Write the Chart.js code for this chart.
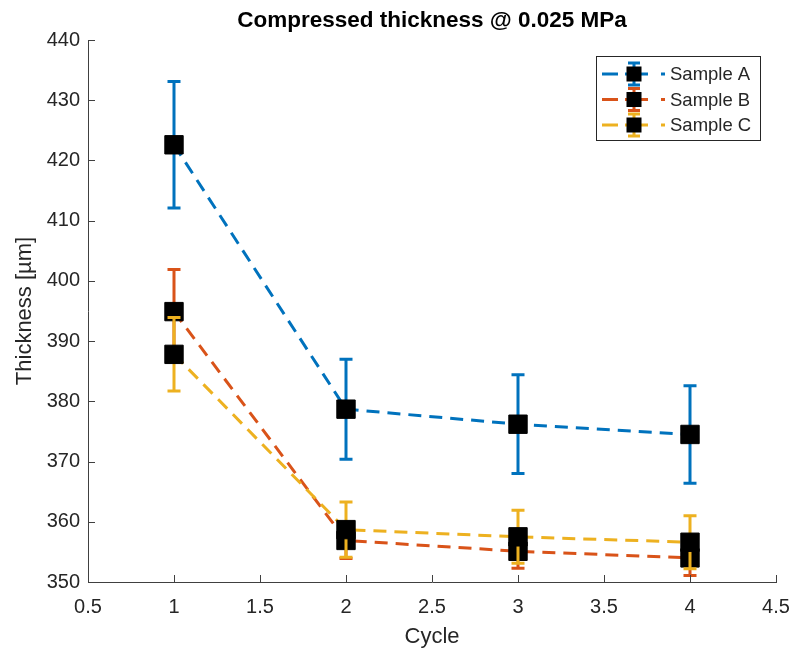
<!DOCTYPE html>
<html>
<head>
<meta charset="utf-8">
<title>Compressed thickness @ 0.025 MPa</title>
<script src="https://cdn.jsdelivr.net/npm/chart.js@4.4.1/dist/chart.umd.min.js"></script>
<style>
  html, body { margin: 0; padding: 0; background: #fff; }
</style>
</head>
<body>
<canvas id="thicknessChart" width="793" height="651"></canvas>
<script>
// Values
const cycles = [1, 2, 3, 4];
const sampleA = [422.6, 378.7, 376.2, 374.5];
const errA = [10.5, 8.3, 8.2, 8.1];
const sampleB = [394.9, 356.9, 355.1, 354.0];
const errB = [7.0, 3.0, 2.8, 2.9];
const sampleC = [387.8, 358.7, 357.5, 356.6];
const errC = [6.1, 4.6, 4.4, 4.4];
const seriesNames = ['Sample A', 'Sample B', 'Sample C'];
const xTicks = [0.5, 1, 1.5, 2, 2.5, 3, 3.5, 4, 4.5];

const FONT = '"Liberation Sans", Arial, Helvetica, sans-serif';
const TEXT = '#262626';
const AXIS = '#404040';
const colors = ['#0072BD', '#D95319', '#EDB120'];

function points(values) {
    return cycles.map((c, i) => ({ x: c, y: values[i] }));
}

function series(label, values, errors, color, order) {
    return {
        label: label,
        data: points(values),
        errors: errors,
        order: order,
        borderColor: color,
        borderWidth: 3,
        borderDash: [13, 8],
        pointStyle: 'rect',
        pointRadius: 13,
        pointBackgroundColor: '#000',
        pointBorderColor: '#000',
        pointBorderWidth: 1,
        tension: 0
    };
}

// Vertical error bars, drawn just before each dataset so layering follows the series order
const errorBarPlugin = {
    id: 'errorBars',
    beforeDatasetDraw(chart, args) {
        const ds = chart.data.datasets[args.index];
        if (!ds.errors) return;
        const ctx = chart.ctx;
        const yScale = chart.scales.y;
        ctx.save();
        ctx.strokeStyle = ds.borderColor;
        ctx.lineWidth = 3;
        ctx.setLineDash([]);
        args.meta.data.forEach((pt, i) => {
            const v = ds.data[i].y;
            const top = yScale.getPixelForValue(v + ds.errors[i]);
            const bot = yScale.getPixelForValue(v - ds.errors[i]);
            ctx.beginPath();
            ctx.moveTo(pt.x, top);
            ctx.lineTo(pt.x, bot);
            ctx.moveTo(pt.x - 6.5, top);
            ctx.lineTo(pt.x + 6.5, top);
            ctx.moveTo(pt.x - 6.5, bot);
            ctx.lineTo(pt.x + 6.5, bot);
            ctx.stroke();
        });
        ctx.restore();
    }
};

// MATLAB style inward tick marks
const innerTicksPlugin = {
    id: 'innerTicks',
    afterDraw(chart) {
        const { ctx, chartArea, scales } = chart;
        ctx.save();
        ctx.strokeStyle = AXIS;
        ctx.lineWidth = 1;
        ctx.beginPath();
        scales.x.ticks.forEach(t => {
            const px = Math.round(scales.x.getPixelForValue(t.value)) + 0.5;
            ctx.moveTo(px, chartArea.bottom);
            ctx.lineTo(px, chartArea.bottom - 7);
        });
        scales.y.ticks.forEach(t => {
            const py = Math.round(scales.y.getPixelForValue(t.value)) + 0.5;
            ctx.moveTo(chartArea.left, py);
            ctx.lineTo(chartArea.left + 7, py);
        });
        ctx.stroke();
        ctx.restore();
    }
};

// Legend box in the top right corner, like MATLAB's 'northeast'
const boxLegendPlugin = {
    id: 'boxLegend',
    afterDraw(chart) {
        const ctx = chart.ctx;
        const area = chart.chartArea;
        const w = 164, h = 84;
        const x0 = area.right - 180, y0 = area.top + 16;
        ctx.save();
        ctx.fillStyle = '#fff';
        ctx.fillRect(x0, y0, w, h);
        ctx.strokeStyle = TEXT;
        ctx.lineWidth = 1;
        ctx.strokeRect(x0 + 0.5, y0 + 0.5, w, h);

        chart.data.datasets.forEach((ds, i) => {
            const cy = y0 + 18 + i * 25.5;
            const cx = x0 + 38;
            ctx.strokeStyle = ds.borderColor;
            ctx.lineWidth = 3;
            ctx.beginPath();
            [[6, 22], [29, 52], [65, 69]].forEach(seg => {
                ctx.moveTo(x0 + seg[0], cy);
                ctx.lineTo(x0 + seg[1], cy);
            });
            ctx.moveTo(cx, cy - 11);
            ctx.lineTo(cx, cy + 11);
            ctx.moveTo(cx - 6, cy - 11);
            ctx.lineTo(cx + 6, cy - 11);
            ctx.moveTo(cx - 6, cy + 11);
            ctx.lineTo(cx + 6, cy + 11);
            ctx.stroke();
            ctx.fillStyle = '#000';
            ctx.fillRect(cx - 7.5, cy - 7.5, 15, 15);
            ctx.fillStyle = TEXT;
            ctx.font = '18.5px ' + FONT;
            ctx.textBaseline = 'middle';
            ctx.textAlign = 'left';
            ctx.fillText(ds.label, x0 + 74, cy + 1);
        });
        ctx.restore();
    }
};

const ctx = document.getElementById('thicknessChart').getContext('2d');
new Chart(ctx, {
    type: 'line',
    data: {
        datasets: [
            series(seriesNames[0], sampleA, errA, colors[0], 3),
            series(seriesNames[1], sampleB, errB, colors[1], 2),
            series(seriesNames[2], sampleC, errC, colors[2], 1)
        ]
    },
    options: {
        responsive: false,
        animation: false,
        layout: { padding: { left: 0, right: 17, top: 0, bottom: 0 } },
        plugins: {
            legend: { display: false },
            tooltip: { enabled: false },
            title: {
                display: true,
                text: 'Compressed thickness @ 0.025 MPa',
                color: '#000',
                fullSize: false,
                font: { family: FONT, size: 22.5, weight: 'bold' },
                padding: { top: 7, bottom: 6 }
            }
        },
        scales: {
            x: {
                type: 'linear',
                min: 0.5,
                max: 4.5,
                afterBuildTicks: scale => { scale.ticks = xTicks.map(v => ({ value: v })); },
                afterFit: scale => {
                    scale.height = 69;
                    scale.paddingLeft = 0;
                    scale.paddingRight = 0;
                },
                grid: { display: false, drawTicks: false },
                border: { display: true, color: AXIS, width: 1 },
                ticks: {
                    color: TEXT,
                    padding: 13,
                    maxRotation: 0,
                    font: { family: FONT, size: 20 },
                    callback: v => String(v)
                },
                title: {
                    display: true,
                    text: 'Cycle',
                    color: TEXT,
                    font: { family: FONT, size: 22 },
                    padding: { top: 0, bottom: 1 }
                }
            },
            y: {
                min: 350,
                max: 440,
                afterFit: scale => { scale.width = 88; },
                grid: { display: false, drawTicks: false },
                border: { display: true, color: AXIS, width: 1 },
                ticks: {
                    stepSize: 10,
                    color: TEXT,
                    padding: 8,
                    font: { family: FONT, size: 20 }
                },
                title: {
                    display: true,
                    text: 'Thickness [µm]',
                    color: TEXT,
                    font: { family: FONT, size: 22 },
                    padding: { top: 12, bottom: 0 }
                }
            }
        }
    },
    plugins: [errorBarPlugin, innerTicksPlugin, boxLegendPlugin]
});
</script>
</body>
</html>
